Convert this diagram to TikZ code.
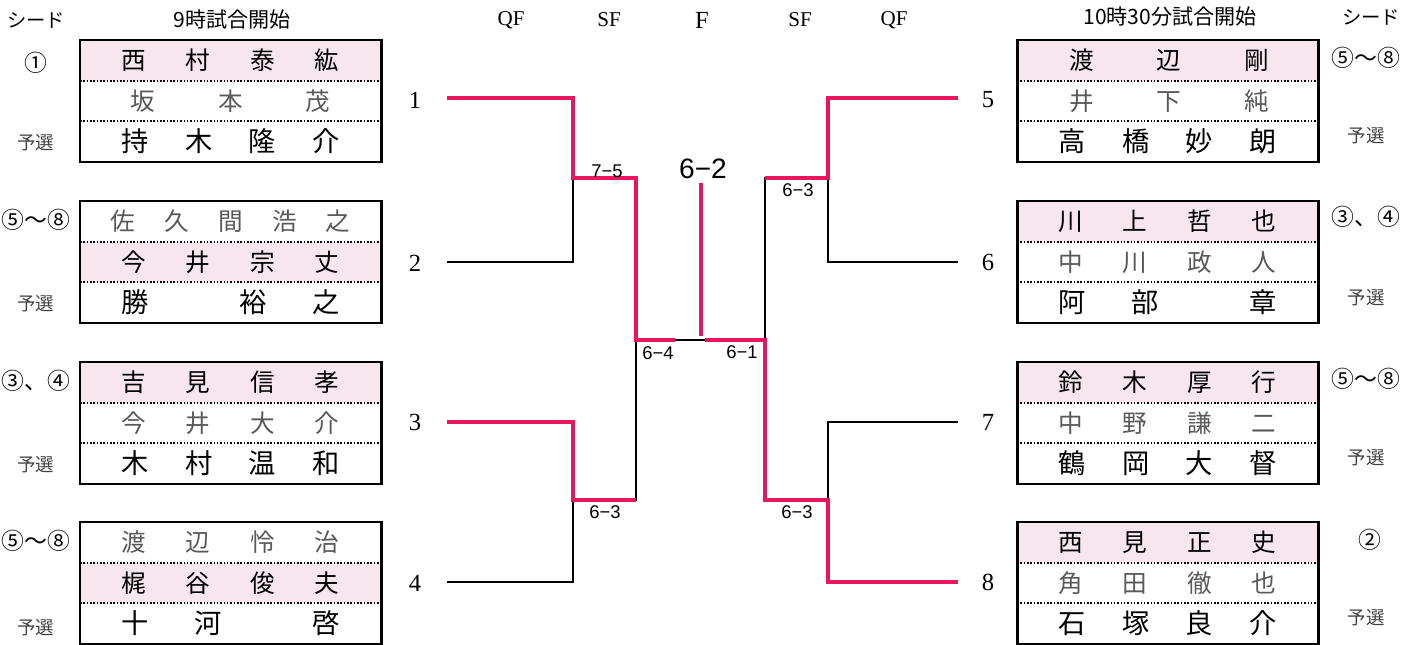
\documentclass[tikz,border=0pt]{standalone}
\usepackage{fontspec}
\setmainfont{Liberation Serif}
\newfontfamily\jp{Noto Sans CJK JP}
\newfontfamily\scorefont{Liberation Sans}
\usepackage{xcolor}
\usepackage{tikz}
\definecolor{lineRed}{HTML}{E8175D}
\definecolor{rowPink}{HTML}{F7E6EE}
\newcommand{\namerow}[2][43.6mm]{\makebox[#1]{#2}}

\begin{document}
\begin{tikzpicture}[x=0.2mm, y=-0.2mm,
  boxframe/.style={draw, line width=1.7pt},
  dotrule/.style={densely dotted, line width=0.9pt},
  rowname/.style={inner sep=0pt, font=\jp\fontsize{14}{16}\selectfont},
  lite/.style={text=black!65},
  heavy/.style={font=\jp\fontsize{15.5}{17}\selectfont},
  seed/.style={font=\jp\fontsize{13}{15}\selectfont},
  yosen/.style={font=\jp\fontsize{10.5}{12}\selectfont, text=black!75},
  head/.style={font=\jp\fontsize{12}{14}\selectfont},
  rnd/.style={font=\fontsize{12}{14}\selectfont},
  num/.style={font=\fontsize{14}{16}\selectfont},
  score/.style={font=\scorefont\fontsize{10.5}{12}\selectfont, inner sep=1pt},
  brk/.style={line width=0.7pt},
  win/.style={draw=lineRed, line width=2.4pt}]
\useasboundingbox (0,0) rectangle (1421,645);
% --- headings ---
\node[head, font=\jp\fontsize{11}{13}\selectfont] (seedL) at (36,20) {シード};
\node[head] (timeL) at (232,20) {9時試合開始};
\node[head] (timeR) at (1170,17) {10時30分試合開始};
\node[head, font=\jp\fontsize{11}{13}\selectfont] (seedR) at (1371,17) {シード};
\node[rnd] (qfL) at (511,20) {QF};
\node[rnd] (sfL) at (609,20) {SF};
\node[rnd, font=\fontsize{14}{16}\selectfont] (fin) at (702,20) {F};
\node[rnd] (sfR) at (800,20) {SF};
\node[rnd] (qfR) at (894,20) {QF};
% --- left block 1 ---
\begin{scope}[shift={(80,40)}]
  \fill[rowPink] (0,0) rectangle (301,41);
  \draw[dotrule] (0,41) -- (301,41);
  \draw[dotrule] (0,81) -- (301,81);
  \draw[boxframe] (0,0) rectangle (301,122);
  \node[rowname] (L1a) at (150.5,20.5) {\namerow{西\hfill 村\hfill 泰\hfill 紘}};
  \node[rowname, lite] (L1b) at (150.5,61) {\namerow[40mm]{坂\hfill 本\hfill 茂}};
  \node[rowname, heavy] (L1c) at (150.5,101.5) {\namerow{持\hfill 木\hfill 隆\hfill 介}};
\end{scope}
% --- left block 2 ---
\begin{scope}[shift={(80,201)}]
  \fill[rowPink] (0,41) rectangle (301,81);
  \draw[dotrule] (0,41) -- (301,41);
  \draw[dotrule] (0,81) -- (301,81);
  \draw[boxframe] (0,0) rectangle (301,122);
  \node[rowname, lite] (L2a) at (150.5,20.5) {\namerow[48mm]{佐\hfill 久\hfill 間\hfill 浩\hfill 之}};
  \node[rowname] (L2b) at (150.5,61) {\namerow{今\hfill 井\hfill 宗\hfill 丈}};
  \node[rowname, heavy] (L2c) at (150.5,101.5) {\namerow{勝\hfill\hfill 裕\hfill 之}};
\end{scope}
% --- left block 3 ---
\begin{scope}[shift={(80,362)}]
  \fill[rowPink] (0,0) rectangle (301,41);
  \draw[dotrule] (0,41) -- (301,41);
  \draw[dotrule] (0,81) -- (301,81);
  \draw[boxframe] (0,0) rectangle (301,122);
  \node[rowname] (L3a) at (150.5,20.5) {\namerow{吉\hfill 見\hfill 信\hfill 孝}};
  \node[rowname, lite] (L3b) at (150.5,61) {\namerow{今\hfill 井\hfill 大\hfill 介}};
  \node[rowname, heavy] (L3c) at (150.5,101.5) {\namerow{木\hfill 村\hfill 温\hfill 和}};
\end{scope}
% --- left block 4 ---
\begin{scope}[shift={(80,522)}]
  \fill[rowPink] (0,41) rectangle (301,81);
  \draw[dotrule] (0,41) -- (301,41);
  \draw[dotrule] (0,81) -- (301,81);
  \draw[boxframe] (0,0) rectangle (301,122);
  \node[rowname, lite] (L4a) at (150.5,20.5) {\namerow{渡\hfill 辺\hfill 怜\hfill 治}};
  \node[rowname] (L4b) at (150.5,61) {\namerow{梶\hfill 谷\hfill 俊\hfill 夫}};
  \node[rowname, heavy] (L4c) at (150.5,101.5) {\namerow{十\hfill 河\hfill\hfill 啓}};
\end{scope}
% --- right block 1 ---
\begin{scope}[shift={(1017,40)}]
  \fill[rowPink] (0,0) rectangle (301,41);
  \draw[dotrule] (0,41) -- (301,41);
  \draw[dotrule] (0,81) -- (301,81);
  \draw[boxframe] (0,0) rectangle (301,122);
  \node[rowname] (R1a) at (152,20.5) {\namerow[40mm]{渡\hfill 辺\hfill 剛}};
  \node[rowname, lite] (R1b) at (152,61) {\namerow[40mm]{井\hfill 下\hfill 純}};
  \node[rowname, heavy] (R1c) at (150.5,101.5) {\namerow{高\hfill 橋\hfill 妙\hfill 朗}};
\end{scope}
% --- right block 2 ---
\begin{scope}[shift={(1017,201)}]
  \fill[rowPink] (0,0) rectangle (301,41);
  \draw[dotrule] (0,41) -- (301,41);
  \draw[dotrule] (0,81) -- (301,81);
  \draw[boxframe] (0,0) rectangle (301,122);
  \node[rowname] (R2a) at (150.5,20.5) {\namerow{川\hfill 上\hfill 哲\hfill 也}};
  \node[rowname, lite] (R2b) at (150.5,61) {\namerow{中\hfill 川\hfill 政\hfill 人}};
  \node[rowname, heavy] (R2c) at (150.5,101.5) {\namerow{阿\hfill 部\hfill\hfill 章}};
\end{scope}
% --- right block 3 ---
\begin{scope}[shift={(1017,362)}]
  \fill[rowPink] (0,0) rectangle (301,41);
  \draw[dotrule] (0,41) -- (301,41);
  \draw[dotrule] (0,81) -- (301,81);
  \draw[boxframe] (0,0) rectangle (301,122);
  \node[rowname] (R3a) at (150.5,20.5) {\namerow{鈴\hfill 木\hfill 厚\hfill 行}};
  \node[rowname, lite] (R3b) at (150.5,61) {\namerow{中\hfill 野\hfill 謙\hfill 二}};
  \node[rowname, heavy] (R3c) at (150.5,101.5) {\namerow{鶴\hfill 岡\hfill 大\hfill 督}};
\end{scope}
% --- right block 4 ---
\begin{scope}[shift={(1017,522)}]
  \fill[rowPink] (0,0) rectangle (301,41);
  \draw[dotrule] (0,41) -- (301,41);
  \draw[dotrule] (0,81) -- (301,81);
  \draw[boxframe] (0,0) rectangle (301,122);
  \node[rowname] (R4a) at (150.5,20.5) {\namerow{西\hfill 見\hfill 正\hfill 史}};
  \node[rowname, lite] (R4b) at (150.5,61) {\namerow{角\hfill 田\hfill 徹\hfill 也}};
  \node[rowname, heavy] (R4c) at (150.5,101.5) {\namerow{石\hfill 塚\hfill 良\hfill 介}};
\end{scope}
% --- seeds ---
\node[seed] (sd1) at (36,63) {①};
\node[seed] (sd2) at (36,220) {⑤～⑧};
\node[seed] (sd3) at (36,381) {③、④};
\node[seed] (sd4) at (36,541) {⑤～⑧};
\node[seed] (sd5) at (1366,58) {⑤～⑧};
\node[seed] (sd6) at (1366,217) {③、④};
\node[seed] (sd7) at (1366,379) {⑤～⑧};
\node[seed] (sd8) at (1370,540) {②};
\foreach \yy [count=\i] in {143,304,465,628}
  \node[yosen] (ysL\i) at (36,\yy) {予選};
\foreach \yy [count=\i] in {136,298,458,618}
  \node[yosen] (ysR\i) at (1366,\yy) {予選};
% --- draw numbers ---
\foreach \yy [count=\i] in {100,263,422,583}
  \node[num] (n\i) at (415,\yy) {\i};
\foreach \yy [count=\i from 5] in {100,262,422,582}
  \node[num] (n\i) at (988,\yy) {\i};
% --- bracket ---
\coordinate (q1) at (447,98);  \coordinate (q1j) at (573,98);
\coordinate (q2) at (447,262); \coordinate (q2j) at (573,262);
\coordinate (q3) at (447,422); \coordinate (q3j) at (573,422);
\coordinate (q4) at (447,582); \coordinate (q4j) at (573,582);
\coordinate (q5) at (958,98);  \coordinate (q5j) at (828,98);
\coordinate (q6) at (958,262); \coordinate (q6j) at (828,262);
\coordinate (q7) at (958,422); \coordinate (q7j) at (828,422);
\coordinate (q8) at (958,582); \coordinate (q8j) at (828,582);
\coordinate (sL1) at (573,178); \coordinate (sL1e) at (636,178);
\coordinate (sL2) at (573,500); \coordinate (sL2e) at (636,500);
\coordinate (sR1) at (828,178); \coordinate (sR1e) at (765,178);
\coordinate (sR2) at (828,500); \coordinate (sR2e) at (765,500);
\coordinate (fL) at (636,340);  \coordinate (fLin) at (675,340);
\coordinate (fR) at (765,340);  \coordinate (fRin) at (705,340);
\coordinate (ftop) at (701,183); \coordinate (fbot) at (701,336);
\draw[brk] (q1) -- (q1j) -- (q2j) -- (q2);
\draw[brk] (q3) -- (q3j) -- (q4j) -- (q4);
\draw[brk] (q5) -- (q5j) -- (q6j) -- (q6);
\draw[brk] (q7) -- (q7j) -- (q8j) -- (q8);
\draw[brk] (sL1) -- (sL1e) -- (sL2e) -- (sL2);
\draw[brk] (sR1) -- (sR1e) -- (sR2e) -- (sR2);
\draw[brk] (fL) -- (fR);
% winners
\draw[win] (q1) -- (q1j) -- (sL1) -- (sL1e) -- (fL) -- (fLin);
\draw[win] (q3) -- (q3j) -- (sL2) -- (sL2e);
\draw[win] (q5) -- (q5j) -- (sR1) -- (sR1e);
\draw[win] (q8) -- (q8j) -- (sR2) -- (sR2e) -- (fR) -- (fRin);
\draw[win] (ftop) -- (fbot);
% scores
\node[score] (r75) at (607,171) {7−5};
\node[score, font=\scorefont\fontsize{16}{18}\selectfont] (r62) at (703,169) {6−2};
\node[score] (r63a) at (798,190) {6−3};
\node[score] (r64) at (658,353) {6−4};
\node[score] (r61) at (742,352) {6−1};
\node[score] (r63b) at (605,512) {6−3};
\node[score] (r63c) at (797,512) {6−3};
\end{tikzpicture}
\end{document}
